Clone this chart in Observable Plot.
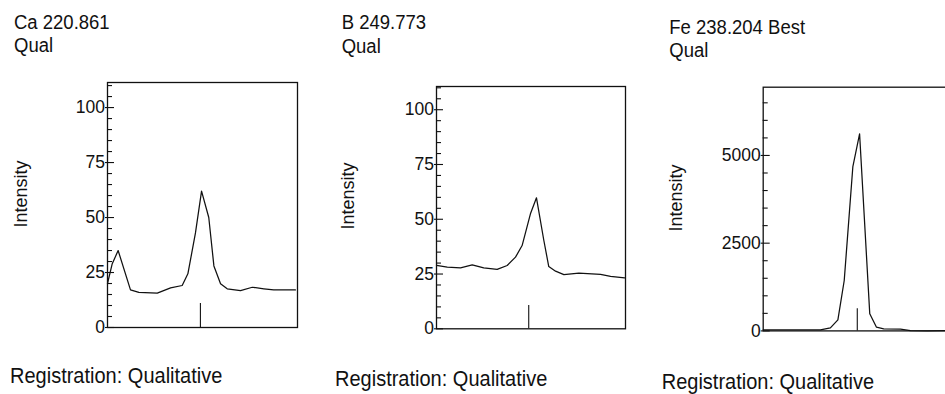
<!DOCTYPE html>
<html><head><meta charset="utf-8">
<script src="https://cdn.jsdelivr.net/npm/d3@7"></script>
<script src="https://cdn.jsdelivr.net/npm/@observablehq/plot@0.6"></script>
<style>
html,body{margin:0;padding:0;background:#fff;width:945px;height:394px;overflow:hidden;}
body{position:relative;font-family:"Liberation Sans",Arial,sans-serif;color:#111;}
.t{position:absolute;white-space:nowrap;line-height:1;transform-origin:0 0.8465em;transform:scaleY(1.12);}
.p{position:absolute;top:60px;}
.yl{position:absolute;white-space:nowrap;line-height:1;font-size:18px;transform:translate(-50%,-50%) rotate(-90deg);}
</style>
</head><body>
<div id="root"></div>
<script>
// Panel titles
const titles = ["Ca 220.861", "B 249.773", "Fe 238.204 Best"];
const subtitle = "Qual";
const footer = "Registration: Qualitative";
const yLabel = "Intensity";

// Ca 220.861
const caX = [0, 2.5, 5.6, 12.1, 16.5, 26.2, 33.2, 39.3, 42.3, 46.3, 49.5, 53.3, 56, 59.5, 63, 70, 76.2, 82.3, 87.5, 98.9];
const caY = [20, 29, 35, 17.1, 16, 15.6, 18, 19.1, 24.4, 43, 62, 50, 28, 19.9, 17.6, 16.8, 18.3, 17.6, 17.1, 17.1];
const caMarkerX = [48.9];
const caMarkerH = [10.9];
const caMajor = [0, 25, 50, 75, 100];
const caMinor = [5,10,15,20,30,35,40,45,55,60,65,70,80,85,90,95,105,110];

// B 249.773
const bX = [0, 5.7, 12.7, 18.9, 25, 32.1, 37.4, 41.8, 45.3, 49.7, 52.9, 56.8, 59.4, 63, 67.4, 75.3, 86.8, 92.1, 99.5];
const bY = [28.9, 28.1, 27.8, 29.2, 27.8, 27.1, 28.9, 32.7, 38, 52.5, 59.8, 40.3, 28.4, 26.3, 24.7, 25.4, 24.8, 23.9, 23.3];
const bMarkerX = [48.8];
const bMarkerH = [10.6];
const bMajor = [0, 25, 50, 75, 100];
const bMinor = [5,10,15,20,30,35,40,45,55,60,65,70,80,85,90,95,105,110];

// Fe 238.204 Best
const feX = [0, 29.8, 35, 38.9, 42.2, 46.7, 50.2, 55.5, 59, 62.8, 71.5, 76.7, 85.4, 94.9, 100];
const feY = [30, 30, 88, 316, 1436, 4685, 5617, 487, 105, 60, 50, 10, 0, 10, 10];
const feMarkerX = [49];
const feMarkerH = [630];
const feMajor = [0, 2500, 5000];
const feMinor = [500,1000,1500,2000,3000,3500,4000,4500,5500,6000,6500];

const root = document.getElementById("root");

function addText(cls, txt, left, top, size) {
  const d = document.createElement("div");
  d.className = cls;
  d.textContent = txt;
  d.style.left = left + "px";
  d.style.top = top + "px";
  if (size) d.style.fontSize = size + "px";
  root.appendChild(d);
}

function panel(cfg) {
  const data = cfg.xs.map((x, i) => ({x, y: cfg.ys[i]}));
  const marker = cfg.mx.map((x, i) => ({x, h: cfg.mh[i]}));
  const fw = cfg.width - cfg.ml - cfg.mr;
  const svg = Plot.plot({
    width: cfg.width, height: 290,
    marginLeft: cfg.ml, marginRight: cfg.mr, marginTop: cfg.mt, marginBottom: cfg.mb,
    x: {domain: [0, 100], axis: null},
    y: {domain: cfg.yDomain, axis: null},
    style: {fontFamily: "'Liberation Sans', Arial, sans-serif", fontSize: "17.5px", color: "#111", background: "transparent", maxWidth: "none", overflow: "visible"},
    marks: [
      Plot.tickY(cfg.minor, {y: d => d, insetRight: fw - 5, stroke: "#111", strokeWidth: 1.1}),
      Plot.tickY(cfg.major, {y: d => d, insetLeft: -2, insetRight: fw - 7, stroke: "#111", strokeWidth: 1.1}),
      Plot.text(cfg.major, {y: d => d, text: d => String(d), frameAnchor: "left", textAnchor: "end", dx: -2.5, fontSize: 17.5, fill: "#111"}),
      Plot.ruleX(marker, {x: "x", y1: 0, y2: "h", stroke: "#111", strokeWidth: 1.1}),
      Plot.line(data, {x: "x", y: "y", stroke: "#111", strokeWidth: 1.25}),
      Plot.frame({stroke: "#111", strokeWidth: 1.3})
    ]
  });
  const d = document.createElement("div");
  d.className = "p";
  d.style.left = cfg.left + "px";
  d.style.width = cfg.width + "px";
  d.appendChild(svg);
  root.appendChild(d);
}

panel({xs: caX, ys: caY, mx: caMarkerX, mh: caMarkerH, yDomain: [0, 111.4], major: caMajor, minor: caMinor,
  left: 0, width: 310, ml: 107, mr: 13, mt: 22, mb: 23});
panel({xs: bX, ys: bY, mx: bMarkerX, mh: bMarkerH, yDomain: [0, 110.6], major: bMajor, minor: bMinor,
  left: 310, width: 320, ml: 126, mr: 5, mt: 26, mb: 21.7});
panel({xs: feX, ys: feY, mx: feMarkerX, mh: feMarkerH, yDomain: [0, 6945], major: feMajor, minor: feMinor,
  left: 630, width: 330, ml: 132.7, mr: 5.3, mt: 26.7, mb: 19.6});

const fs = 18.5, fb = 20;
const titlePos = [[14, 30, 53], [341.7, 30, 54], [669.3, 34.3, 58]];
titlePos.forEach(([x, b1, b2], i) => {
  addText("t", titles[i], x, b1 - 0.8465 * fs, fs);
  addText("t", subtitle, x, b2 - 0.8465 * fs, fs);
});
const footPos = [[10, 383], [335, 386], [661.7, 389]];
footPos.forEach(([x, b]) => addText("t", footer, x, b - 0.8465 * fb, fb));
const ylPos = [[21, 194], [348, 196], [676, 197.5]];
ylPos.forEach(([x, y]) => addText("yl", yLabel, x, y));
</script>
</body></html>
